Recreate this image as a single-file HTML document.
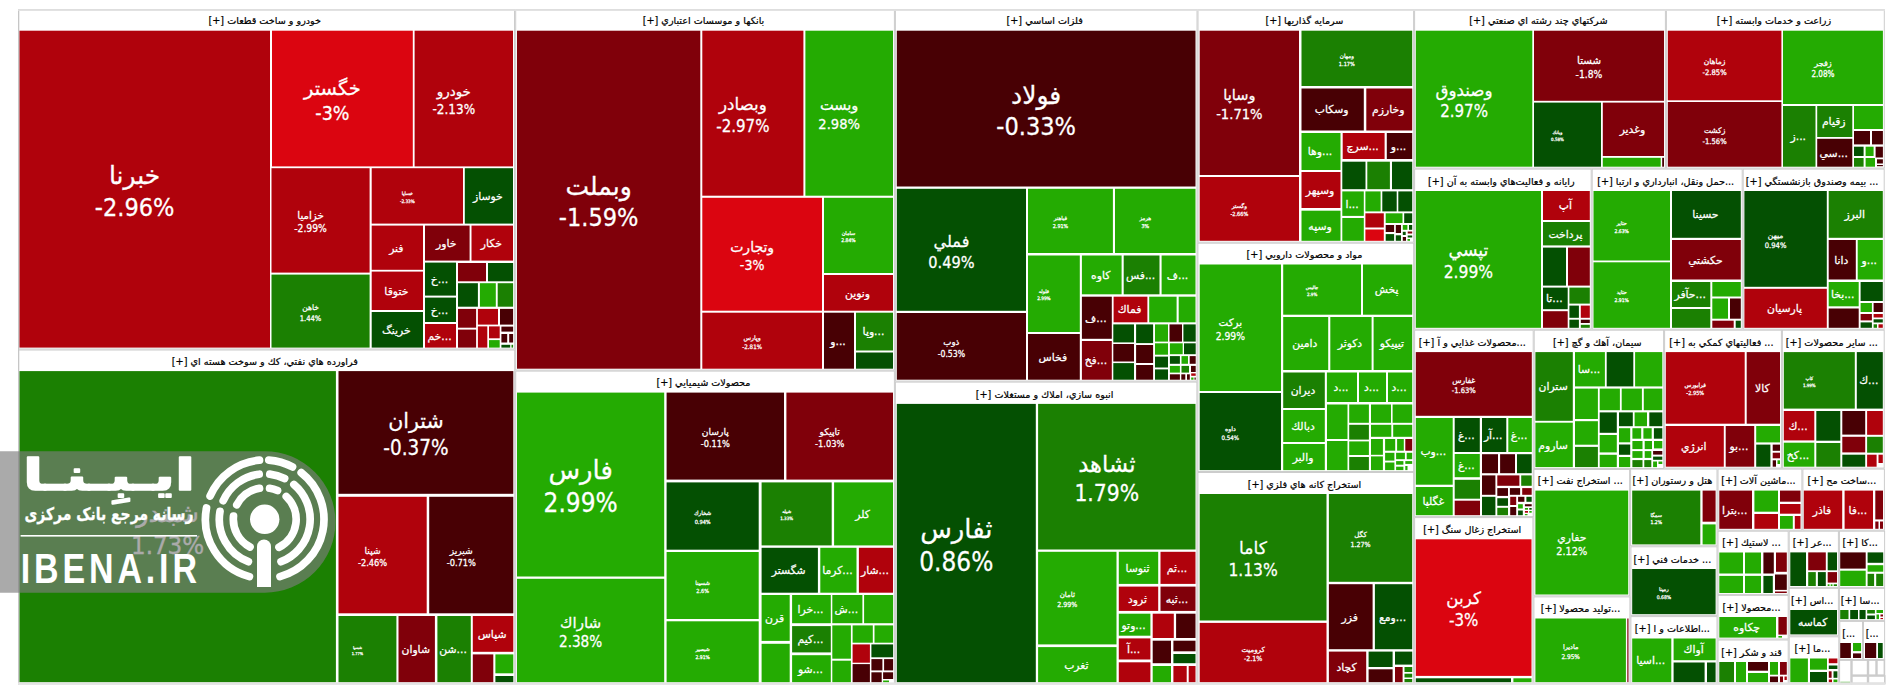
<!DOCTYPE html>
<html lang="fa"><head><meta charset="utf-8"><title>Market Map</title>
<style>html,body{margin:0;padding:0;background:#fff;overflow:hidden}svg{display:block}text{font-family:"DejaVu Sans","Liberation Sans",sans-serif;direction:rtl;unicode-bidi:plaintext}.c text,.c{direction:ltr;unicode-bidi:normal;fill:#fff;text-anchor:middle;stroke:#fff;stroke-width:.26px}.h{fill:#000;text-anchor:middle;font-size:9.65px;stroke:#000;stroke-width:.2px}.n{font-family:"DejaVu Sans Condensed","DejaVu Sans","Liberation Sans",sans-serif;direction:ltr}</style></head><body>
<svg width="1904" height="698" viewBox="0 0 1904 698">
<rect width="1904" height="698" fill="#fff"/>
<g fill="none" stroke="#ccc" stroke-width="1">
<rect x="18.5" y="9.7" width="496" height="339.3"/>
<rect x="515.7" y="9.7" width="378.7" height="360.4"/>
<rect x="895.4" y="9.7" width="301.6" height="371.4"/>
<rect x="1198" y="9.7" width="215.6" height="232.5"/>
<rect x="1414.6" y="9.7" width="250.8" height="158.4"/>
<rect x="1666.4" y="9.7" width="217.9" height="158.4"/>
<rect x="18.5" y="350" width="496.2" height="333.7"/>
<rect x="515.7" y="371.1" width="378.7" height="312.6"/>
<rect x="895.4" y="382.1" width="301.5" height="301.6"/>
<rect x="1197.9" y="243.2" width="215.7" height="228.3"/>
<rect x="1197.9" y="472.5" width="215.7" height="211.2"/>
<rect x="1414.6" y="169.1" width="176.6" height="160.1"/>
<rect x="1592.2" y="169.1" width="150" height="160.1"/>
<rect x="1743.2" y="169.1" width="141" height="160.1"/>
<rect x="1414.6" y="330.2" width="118.6" height="186.4"/>
<rect x="1534.2" y="330.2" width="129.4" height="138.3"/>
<rect x="1664.6" y="330.2" width="116.8" height="137.9"/>
<rect x="1782.4" y="330.2" width="101.8" height="137.9"/>
<rect x="1414.6" y="517.6" width="118.3" height="166.1"/>
<rect x="1533.9" y="469.5" width="95.7" height="126.4"/>
<rect x="1533.9" y="596.9" width="96" height="86.8"/>
<rect x="1630.6" y="469.1" width="86.4" height="76.7"/>
<rect x="1630.9" y="546.8" width="86.1" height="68.8"/>
<rect x="1630.9" y="616.6" width="86.1" height="67.1"/>
<rect x="1718" y="469.1" width="83.9" height="61.1"/>
<rect x="1802.9" y="469.1" width="81.5" height="61.1"/>
<rect x="1718" y="531.2" width="70.2" height="63.2"/>
<rect x="1718" y="595.4" width="70.2" height="43.6"/>
<rect x="1718" y="640" width="70.2" height="43.7"/>
<rect x="1789.2" y="531.2" width="49.2" height="56.2"/>
<rect x="1839.4" y="531.2" width="45.2" height="56.2"/>
<rect x="1789.2" y="588.4" width="49.2" height="47.4"/>
<rect x="1839.4" y="588.4" width="45.2" height="32"/>
<rect x="1789.2" y="636.8" width="49.6" height="46.9"/>
<rect x="1839.8" y="621.4" width="22.7" height="38"/>
<rect x="1863.5" y="621.4" width="21.1" height="38"/>
<rect x="1839.3" y="660.1" width="11.8" height="23.4" stroke-width="1.6"/>
<rect x="1851.9" y="660.1" width="15.7" height="15.1" stroke-width="1.6"/>
<rect x="1868.4" y="660.1" width="7.7" height="15.1" stroke-width="1.6"/>
<rect x="1876.9" y="660.1" width="7.5" height="15.1" stroke-width="1.6"/>
<rect x="1851.9" y="676" width="15.7" height="7.5" stroke-width="1.6"/>
<rect x="1868.4" y="676" width="16.4" height="7.5" stroke-width="1.6"/>
</g>
<rect x="1840.4" y="681.7" width="9.6" height="1.1" fill="#24AB02" opacity=".6"/>
<g>
<rect x="19.3" y="30.7" width="250.7" height="316.9" fill="#B0020C"/>
<rect x="272" y="30.7" width="140.8" height="135.7" fill="#DB0510"/>
<rect x="414.6" y="30.7" width="98.4" height="135.7" fill="#B0020C"/>
<rect x="271.5" y="168.2" width="98.1" height="104.4" fill="#B0020C"/>
<rect x="271.5" y="274.6" width="98.1" height="73" fill="#1B8002"/>
<rect x="371.7" y="168.2" width="91.3" height="55.4" fill="#B0020C"/>
<rect x="464.8" y="168.2" width="48.2" height="55.4" fill="#045002"/>
<rect x="371.7" y="225.6" width="51.3" height="44.2" fill="#B0020C"/>
<rect x="425" y="225.6" width="44.6" height="35" fill="#80000A"/>
<rect x="471.5" y="225.6" width="41.5" height="35" fill="#B0020C"/>
<rect x="371.7" y="271.6" width="51.3" height="38.4" fill="#B0020C"/>
<rect x="371.7" y="312" width="51.3" height="35.6" fill="#045002"/>
<rect x="425" y="262.6" width="31" height="33" fill="#045002"/>
<rect x="425" y="297.6" width="31" height="24.4" fill="#045002"/>
<rect x="425" y="324" width="31" height="23.6" fill="#B0020C"/>
<rect x="458" y="263" width="28" height="18.3" fill="#80000A"/>
<rect x="488" y="263" width="25.1" height="18.3" fill="#045002"/>
<rect x="458" y="283.2" width="19.9" height="23.5" fill="#045002"/>
<rect x="479.9" y="283.2" width="15.9" height="23.5" fill="#24AB02"/>
<rect x="497.7" y="283.2" width="15.4" height="23.5" fill="#1B8002"/>
<rect x="458" y="308.9" width="18.1" height="18.8" fill="#80000A"/>
<rect x="477.9" y="308.9" width="20.1" height="15.7" fill="#B0020C"/>
<rect x="500" y="308.9" width="13.1" height="15.7" fill="#480004"/>
<rect x="458" y="329.6" width="18.1" height="18" fill="#80000A"/>
<rect x="477.9" y="326.4" width="9.4" height="21.2" fill="#B0020C"/>
<rect x="489" y="326.4" width="10.7" height="11.9" fill="#B0020C"/>
<rect x="489" y="340.1" width="10.7" height="7.5" fill="#24AB02"/>
<rect x="501.4" y="326.6" width="11.7" height="5" fill="#480004"/>
<rect x="501.4" y="334" width="5.8" height="8.5" fill="#480004"/>
<rect x="509.2" y="334" width="3.9" height="8.5" fill="#480004"/>
<rect x="501.4" y="344.8" width="8.8" height="2.8" fill="#045002"/>
<rect x="511.5" y="344.8" width="1.6" height="2.8" fill="#1B8002"/>
</g>
<g>
<rect x="517" y="30.7" width="183.3" height="338" fill="#80000A"/>
<rect x="702.3" y="30.7" width="101.1" height="165" fill="#B0020C"/>
<rect x="805.4" y="30.7" width="87.6" height="165" fill="#24AB02"/>
<rect x="702.3" y="197.8" width="119.7" height="112.9" fill="#DB0510"/>
<rect x="824" y="197.8" width="69" height="75.2" fill="#24AB02"/>
<rect x="824" y="275" width="69" height="35.7" fill="#B0020C"/>
<rect x="702.3" y="312.7" width="119.7" height="56" fill="#B0020C"/>
<rect x="824" y="312.7" width="30" height="56" fill="#480004"/>
<rect x="856" y="312.7" width="37" height="37.8" fill="#1B8002"/>
<rect x="856" y="352.5" width="37" height="16.2" fill="#045002"/>
</g>
<g>
<rect x="896.8" y="30.7" width="298.7" height="155.8" fill="#480004"/>
<rect x="896.8" y="188.8" width="129.2" height="122" fill="#045002"/>
<rect x="896.8" y="313" width="129.2" height="66.7" fill="#480004"/>
<rect x="1028" y="188.8" width="84.9" height="64.2" fill="#24AB02"/>
<rect x="1115" y="188.8" width="80.5" height="64.2" fill="#24AB02"/>
<rect x="1028" y="255.5" width="51.8" height="76.5" fill="#24AB02"/>
<rect x="1028" y="334" width="51.8" height="45.7" fill="#480004"/>
<rect x="1081.9" y="255.5" width="39.7" height="38.8" fill="#24AB02"/>
<rect x="1123.7" y="255.5" width="35.8" height="38.8" fill="#1B8002"/>
<rect x="1161.6" y="255.5" width="33.9" height="38.8" fill="#24AB02"/>
<rect x="1081.9" y="296.7" width="29.9" height="42.1" fill="#480004"/>
<rect x="1081.9" y="341" width="29.9" height="38.7" fill="#80000A"/>
<rect x="1113.6" y="296.7" width="33.8" height="25.6" fill="#B0020C"/>
<rect x="1149.2" y="296.7" width="27.4" height="25.6" fill="#24AB02"/>
<rect x="1178.7" y="296.7" width="16.8" height="25.6" fill="#24AB02"/>
<rect x="1113.3" y="324.4" width="20.7" height="18" fill="#045002"/>
<rect x="1113.3" y="344" width="20.7" height="17.5" fill="#480004"/>
<rect x="1113.3" y="363.1" width="20.7" height="16.6" fill="#045002"/>
<rect x="1136.1" y="324.4" width="17" height="18.7" fill="#045002"/>
<rect x="1136.1" y="345" width="17" height="18" fill="#480004"/>
<rect x="1136.1" y="365" width="17" height="14.7" fill="#480004"/>
<rect x="1155" y="324.4" width="13" height="17.2" fill="#24AB02"/>
<rect x="1155" y="343.3" width="13" height="11.4" fill="#24AB02"/>
<rect x="1155" y="356.6" width="13" height="10.9" fill="#045002"/>
<rect x="1155" y="369.4" width="13" height="10.3" fill="#045002"/>
<rect x="1169.5" y="324.4" width="12.5" height="17.2" fill="#480004"/>
<rect x="1169.9" y="343.3" width="12.8" height="10.9" fill="#24AB02"/>
<rect x="1169.9" y="356.1" width="10" height="7.7" fill="#045002"/>
<rect x="1181.5" y="356.1" width="6.5" height="7.7" fill="#24AB02"/>
<rect x="1189.7" y="356.1" width="6" height="7.7" fill="#480004"/>
<rect x="1169.9" y="365.9" width="10" height="6.7" fill="#24AB02"/>
<rect x="1181.5" y="365.9" width="7.5" height="6.7" fill="#1B8002"/>
<rect x="1191" y="365.9" width="4.7" height="6.1" fill="#480004"/>
<rect x="1169.9" y="374.3" width="10" height="5.4" fill="#480004"/>
<rect x="1181.3" y="374.3" width="4" height="5.4" fill="#480004"/>
<rect x="1187" y="374.3" width="2.8" height="5.4" fill="#480004"/>
<rect x="1191.2" y="373.4" width="4.5" height="2.4" fill="#B0020C"/>
<rect x="1191.2" y="377.5" width="2.3" height="2.2" fill="#24AB02"/>
<rect x="1194.5" y="377.5" width="1.2" height="2.2" fill="#480004"/>
<rect x="1183.4" y="324.4" width="12.3" height="17.2" fill="#045002"/>
<rect x="1184" y="343.3" width="11.7" height="10.9" fill="#045002"/>
</g>
<g>
<rect x="1199.7" y="30.7" width="99.3" height="144.3" fill="#80000A"/>
<rect x="1199.7" y="177" width="99.3" height="63.8" fill="#B0020C"/>
<rect x="1301.5" y="30.7" width="110.7" height="55.3" fill="#1B8002"/>
<rect x="1301.5" y="88.5" width="62.3" height="42" fill="#480004"/>
<rect x="1366.3" y="88.5" width="45.9" height="42" fill="#80000A"/>
<rect x="1301.5" y="133" width="39" height="37" fill="#24AB02"/>
<rect x="1301.5" y="172" width="39" height="36" fill="#B0020C"/>
<rect x="1301.5" y="210.7" width="39" height="30.1" fill="#24AB02"/>
<rect x="1342.7" y="133" width="41.9" height="26" fill="#B0020C"/>
<rect x="1386.8" y="133" width="25.4" height="26" fill="#480004"/>
<rect x="1342.3" y="191.4" width="21.5" height="24.5" fill="#24AB02"/>
<rect x="1342.3" y="161.7" width="23.2" height="27.5" fill="#045002"/>
<rect x="1367.3" y="161.7" width="22.6" height="27.5" fill="#1B8002"/>
<rect x="1392" y="161.7" width="20.2" height="27.5" fill="#045002"/>
<rect x="1342.3" y="218" width="21.5" height="22.8" fill="#24AB02"/>
<rect x="1365.4" y="191.4" width="15.2" height="20" fill="#24AB02"/>
<rect x="1382.3" y="191.4" width="14.4" height="20" fill="#045002"/>
<rect x="1398.3" y="191.4" width="13.9" height="20" fill="#045002"/>
<rect x="1365.4" y="213.3" width="18.4" height="14.2" fill="#B0020C"/>
<rect x="1365.4" y="229.5" width="18.4" height="11.3" fill="#DB0510"/>
<rect x="1385.7" y="213.3" width="16.8" height="9.7" fill="#24AB02"/>
<rect x="1404.2" y="213.3" width="8" height="9.7" fill="#045002"/>
<rect x="1385.7" y="225" width="8.4" height="7" fill="#480004"/>
<rect x="1395.8" y="225" width="5.2" height="8" fill="#480004"/>
<rect x="1385.7" y="234.1" width="8.4" height="6.7" fill="#045002"/>
<rect x="1395.8" y="235.3" width="5.2" height="5.5" fill="#045002"/>
<rect x="1402.8" y="225" width="4.6" height="4.8" fill="#24AB02"/>
<rect x="1409" y="225" width="3.2" height="4.8" fill="#045002"/>
<rect x="1402.8" y="231.8" width="2.9" height="3.2" fill="#045002"/>
<rect x="1407.7" y="231.5" width="4.5" height="2" fill="#80000A"/>
<rect x="1407.7" y="235.5" width="4.5" height="2" fill="#045002"/>
<rect x="1402.8" y="237" width="3.2" height="3.8" fill="#480004"/>
<rect x="1407.5" y="239" width="2.5" height="1.8" fill="#24AB02"/>
</g>
<g>
<rect x="1415.8" y="30.7" width="116.5" height="136" fill="#24AB02"/>
<rect x="1534" y="30.7" width="130" height="70.1" fill="#80000A"/>
<rect x="1534" y="102.6" width="67" height="64.1" fill="#045002"/>
<rect x="1602.8" y="102.6" width="61.2" height="53.4" fill="#80000A"/>
<rect x="1602.8" y="157.8" width="57.9" height="8.9" fill="#24AB02"/>
<rect x="1662.2" y="157.8" width="1.8" height="8.9" fill="#480004"/>
</g>
<g>
<rect x="1667.8" y="30.7" width="113.6" height="69.6" fill="#B0020C"/>
<rect x="1667.8" y="102" width="113.6" height="64.7" fill="#80000A"/>
<rect x="1783" y="30.7" width="99.9" height="73.3" fill="#24AB02"/>
<rect x="1783" y="106" width="32.5" height="60.7" fill="#1B8002"/>
<rect x="1817.2" y="106" width="35.1" height="31" fill="#1B8002"/>
<rect x="1817.2" y="138.8" width="35.1" height="27.9" fill="#480004"/>
<rect x="1854" y="106" width="28.9" height="23" fill="#24AB02"/>
<rect x="1854" y="131" width="16" height="13.4" fill="#480004"/>
<rect x="1872" y="131" width="10.9" height="13.4" fill="#480004"/>
<rect x="1854" y="146.7" width="9.6" height="9.3" fill="#045002"/>
<rect x="1865.6" y="146.7" width="8" height="9.3" fill="#24AB02"/>
<rect x="1875.6" y="146.7" width="7.3" height="10.8" fill="#480004"/>
<rect x="1854" y="158" width="9.6" height="8.7" fill="#1B8002"/>
<rect x="1865.6" y="158" width="9.4" height="8.7" fill="#24AB02"/>
<rect x="1877" y="159.3" width="5.9" height="4.2" fill="#480004"/>
<rect x="1877" y="165" width="5.9" height="1.2" fill="#480004"/>
</g>
<g>
<rect x="19.3" y="371.1" width="316.6" height="311.2" fill="#1B8002"/>
<rect x="338.5" y="371.1" width="174.8" height="122.7" fill="#480004"/>
<rect x="338.5" y="496.8" width="88.2" height="116.5" fill="#B0020C"/>
<rect x="429.2" y="496.8" width="84.1" height="116.5" fill="#480004"/>
<rect x="338.5" y="616" width="57.9" height="66.3" fill="#1B8002"/>
<rect x="398.5" y="616" width="36.4" height="66.3" fill="#80000A"/>
<rect x="437.4" y="616" width="33.4" height="66.3" fill="#1B8002"/>
<rect x="472.8" y="616" width="40.5" height="35.8" fill="#B0020C"/>
<rect x="472.8" y="654.4" width="20.5" height="27.9" fill="#80000A"/>
<rect x="495.4" y="654.4" width="17.9" height="18.9" fill="#24AB02"/>
<rect x="495.4" y="676" width="17.9" height="6.3" fill="#045002"/>
</g>
<g>
<rect x="517" y="392.6" width="147.2" height="183.9" fill="#24AB02"/>
<rect x="517" y="578.8" width="147.2" height="103.5" fill="#24AB02"/>
<rect x="666.6" y="392.6" width="117.4" height="87" fill="#480004"/>
<rect x="786.4" y="392.6" width="106.6" height="87" fill="#80000A"/>
<rect x="666.6" y="482.4" width="92.1" height="67.3" fill="#045002"/>
<rect x="761.6" y="482.4" width="70.1" height="63" fill="#1B8002"/>
<rect x="834.1" y="482.4" width="58.9" height="63" fill="#24AB02"/>
<rect x="666.6" y="552" width="92.1" height="67" fill="#24AB02"/>
<rect x="666.6" y="621.3" width="92.1" height="61" fill="#24AB02"/>
<rect x="761.6" y="547.8" width="56.3" height="44.9" fill="#045002"/>
<rect x="820.3" y="547.8" width="36.2" height="44.9" fill="#24AB02"/>
<rect x="858.9" y="547.8" width="34.1" height="44.9" fill="#B0020C"/>
<rect x="761.6" y="595" width="28.1" height="45.9" fill="#24AB02"/>
<rect x="761.6" y="643.8" width="28.1" height="38.5" fill="#24AB02"/>
<rect x="792.1" y="595" width="38.7" height="28.2" fill="#24AB02"/>
<rect x="792.1" y="626.1" width="38.7" height="26.3" fill="#1B8002"/>
<rect x="792.1" y="655.2" width="38.7" height="27.1" fill="#24AB02"/>
<rect x="832.3" y="595" width="30.1" height="28.2" fill="#24AB02"/>
<rect x="864.1" y="595" width="29" height="28.2" fill="#24AB02"/>
<rect x="832.3" y="625.4" width="18.6" height="33.3" fill="#24AB02"/>
<rect x="832.3" y="660.7" width="18.6" height="21.6" fill="#24AB02"/>
<rect x="852.6" y="625.4" width="20.2" height="17.3" fill="#24AB02"/>
<rect x="874.5" y="625.4" width="18.6" height="17.3" fill="#24AB02"/>
<rect x="852.6" y="644.4" width="17.3" height="18.3" fill="#B0020C"/>
<rect x="852.6" y="664.1" width="17.3" height="18.2" fill="#480004"/>
<rect x="871.4" y="644.4" width="21.7" height="12.9" fill="#045002"/>
<rect x="871.4" y="659.1" width="11" height="11.3" fill="#480004"/>
<rect x="884.1" y="659.1" width="9" height="11.3" fill="#480004"/>
<rect x="871.4" y="672.3" width="10.3" height="10" fill="#480004"/>
<rect x="883.1" y="672.3" width="10" height="6.7" fill="#480004"/>
<rect x="883.1" y="680.5" width="5.9" height="1.8" fill="#24AB02"/>
</g>
<g>
<rect x="896.8" y="403.9" width="139" height="278.4" fill="#045002"/>
<rect x="1038.1" y="403.9" width="157.4" height="145.6" fill="#1B8002"/>
<rect x="1038.1" y="551.8" width="78.4" height="92.6" fill="#24AB02"/>
<rect x="1038.1" y="647.1" width="78.4" height="35.2" fill="#24AB02"/>
<rect x="1118.8" y="551.8" width="39.4" height="32.1" fill="#24AB02"/>
<rect x="1160.5" y="551.8" width="35" height="32.1" fill="#B0020C"/>
<rect x="1118.8" y="586.6" width="39.4" height="24.3" fill="#B0020C"/>
<rect x="1160.5" y="586.6" width="35" height="24.3" fill="#80000A"/>
<rect x="1118.8" y="613.7" width="31.6" height="22" fill="#24AB02"/>
<rect x="1118.8" y="638.4" width="31.6" height="21.1" fill="#B0020C"/>
<rect x="1118.8" y="662.3" width="31.6" height="20" fill="#B0020C"/>
<rect x="1152.7" y="613.7" width="21.1" height="24.3" fill="#B0020C"/>
<rect x="1176.1" y="613.7" width="19.4" height="24.3" fill="#480004"/>
<rect x="1152.7" y="640.7" width="18.3" height="22.5" fill="#480004"/>
<rect x="1173.4" y="640.7" width="22.1" height="10.6" fill="#480004"/>
<rect x="1173.4" y="654" width="22.1" height="9.2" fill="#045002"/>
<rect x="1152.7" y="666" width="18.3" height="16.3" fill="#24AB02"/>
<rect x="1173.4" y="666" width="13.3" height="16.3" fill="#B0020C"/>
<rect x="1188.7" y="666" width="6.8" height="16.3" fill="#B0020C"/>
</g>
<g>
<rect x="1199.7" y="264.5" width="81.3" height="126.5" fill="#24AB02"/>
<rect x="1199.7" y="393" width="81.3" height="77.1" fill="#045002"/>
<rect x="1283.2" y="264.5" width="77.8" height="50.2" fill="#24AB02"/>
<rect x="1363" y="264.5" width="49.2" height="50.2" fill="#24AB02"/>
<rect x="1283.2" y="317" width="45" height="53" fill="#24AB02"/>
<rect x="1330.3" y="317" width="41.3" height="53" fill="#24AB02"/>
<rect x="1373.6" y="317" width="38.6" height="53" fill="#24AB02"/>
<rect x="1283.2" y="372.5" width="41.6" height="35.5" fill="#1B8002"/>
<rect x="1283.2" y="410" width="41.6" height="32" fill="#24AB02"/>
<rect x="1283.2" y="444" width="41.6" height="26.1" fill="#24AB02"/>
<rect x="1326.9" y="372.5" width="30.1" height="29.5" fill="#24AB02"/>
<rect x="1359" y="372.5" width="27" height="29.5" fill="#24AB02"/>
<rect x="1388" y="372.5" width="24.2" height="29.5" fill="#24AB02"/>
<rect x="1327" y="404.5" width="20.5" height="34.5" fill="#24AB02"/>
<rect x="1327" y="441" width="20.5" height="29.1" fill="#24AB02"/>
<rect x="1349.2" y="404.5" width="19.7" height="18.3" fill="#24AB02"/>
<rect x="1349.2" y="424.8" width="19.7" height="14.8" fill="#1B8002"/>
<rect x="1349.2" y="441.4" width="19.7" height="13.6" fill="#24AB02"/>
<rect x="1349.2" y="457" width="19.7" height="13.1" fill="#1B8002"/>
<rect x="1371" y="404.5" width="20" height="18.3" fill="#24AB02"/>
<rect x="1371" y="424.8" width="20.3" height="12" fill="#24AB02"/>
<rect x="1392.6" y="404.5" width="19.6" height="18.3" fill="#24AB02"/>
<rect x="1393.2" y="424.8" width="19" height="12" fill="#24AB02"/>
<rect x="1371" y="439" width="11.9" height="15.8" fill="#24AB02"/>
<rect x="1371" y="456.4" width="11.9" height="13.7" fill="#24AB02"/>
<rect x="1385.1" y="439" width="10.1" height="11.7" fill="#24AB02"/>
<rect x="1397.1" y="439" width="6.7" height="11.7" fill="#24AB02"/>
<rect x="1405.3" y="439" width="6.9" height="11.7" fill="#80000A"/>
<rect x="1385.1" y="452.8" width="9.3" height="7.8" fill="#24AB02"/>
<rect x="1396.1" y="452.8" width="8.8" height="6.4" fill="#24AB02"/>
<rect x="1406.7" y="452.8" width="5.5" height="6.4" fill="#24AB02"/>
<rect x="1385.1" y="462.5" width="9.3" height="7.6" fill="#24AB02"/>
<rect x="1396.1" y="461.1" width="7.3" height="3.6" fill="#24AB02"/>
<rect x="1405.3" y="461.1" width="6.9" height="2.8" fill="#24AB02"/>
<rect x="1396.1" y="466.7" width="7.3" height="3.4" fill="#24AB02"/>
<rect x="1405.3" y="466" width="2.2" height="4.1" fill="#24AB02"/>
</g>
<g>
<rect x="1199.7" y="494" width="126.8" height="126.5" fill="#1B8002"/>
<rect x="1199.7" y="622.9" width="126.8" height="59.4" fill="#B0020C"/>
<rect x="1328.9" y="494" width="83.3" height="87.8" fill="#1B8002"/>
<rect x="1328.9" y="584.2" width="43.7" height="65" fill="#480004"/>
<rect x="1374.9" y="584.2" width="37.3" height="65" fill="#045002"/>
<rect x="1328.9" y="651.6" width="37.3" height="30.7" fill="#80000A"/>
<rect x="1368.6" y="651.6" width="24" height="15.4" fill="#045002"/>
<rect x="1368.6" y="669.3" width="24" height="13" fill="#480004"/>
<rect x="1395" y="651.6" width="17.2" height="13" fill="#045002"/>
<rect x="1395" y="667" width="7.6" height="15.3" fill="#80000A"/>
<rect x="1404.5" y="667" width="7.7" height="5" fill="#1B8002"/>
<rect x="1404.5" y="673.7" width="7.7" height="3.8" fill="#1B8002"/>
<rect x="1404.5" y="679" width="7.7" height="3.3" fill="#1B8002"/>
</g>
<g>
<rect x="1415.8" y="191" width="125.2" height="136.8" fill="#24AB02"/>
<rect x="1543" y="191" width="46.8" height="29" fill="#B0020C"/>
<rect x="1543" y="222" width="46.8" height="23.4" fill="#1B8002"/>
<rect x="1543" y="247.6" width="23" height="38" fill="#045002"/>
<rect x="1568" y="247.6" width="21.8" height="38" fill="#80000A"/>
<rect x="1543" y="287.6" width="24.7" height="21.6" fill="#045002"/>
<rect x="1543" y="311.2" width="24.7" height="16.6" fill="#80000A"/>
<rect x="1569.4" y="287.6" width="20.4" height="16" fill="#1B8002"/>
<rect x="1569.4" y="305.6" width="9.5" height="12.2" fill="#045002"/>
<rect x="1580.8" y="305.6" width="9" height="12.2" fill="#B0020C"/>
<rect x="1569.4" y="319.7" width="9.5" height="8.1" fill="#045002"/>
<rect x="1580.8" y="319.7" width="9" height="3.3" fill="#480004"/>
<rect x="1580.8" y="324.8" width="9" height="3" fill="#1B8002"/>
</g>
<g>
<rect x="1593.5" y="191" width="76.5" height="69.5" fill="#24AB02"/>
<rect x="1593.5" y="262.3" width="76.5" height="65.5" fill="#24AB02"/>
<rect x="1672" y="191" width="68.8" height="46.8" fill="#045002"/>
<rect x="1672" y="240" width="68.8" height="39.5" fill="#80000A"/>
<rect x="1672" y="282" width="38.3" height="25" fill="#1B8002"/>
<rect x="1672" y="309" width="38.3" height="18.8" fill="#1B8002"/>
<rect x="1712.3" y="282" width="28.5" height="14.5" fill="#24AB02"/>
<rect x="1712.3" y="298.5" width="15.7" height="20.2" fill="#24AB02"/>
<rect x="1730" y="298.5" width="10.8" height="20.2" fill="#480004"/>
<rect x="1712.3" y="320.7" width="21.4" height="7.1" fill="#80000A"/>
<rect x="1735.7" y="320.7" width="5.1" height="7.1" fill="#045002"/>
</g>
<g>
<rect x="1744.4" y="191" width="82.4" height="95.8" fill="#045002"/>
<rect x="1744.4" y="288.8" width="82.4" height="39" fill="#B0020C"/>
<rect x="1828.7" y="191" width="54.1" height="46.8" fill="#1B8002"/>
<rect x="1828.7" y="240" width="27.1" height="39.5" fill="#480004"/>
<rect x="1857.7" y="240" width="25.1" height="39.5" fill="#24AB02"/>
<rect x="1828.7" y="282" width="30" height="24.3" fill="#24AB02"/>
<rect x="1828.7" y="308.5" width="30" height="19.3" fill="#480004"/>
<rect x="1860.6" y="282" width="22.2" height="19" fill="#045002"/>
<rect x="1860.6" y="303" width="11.3" height="9" fill="#24AB02"/>
<rect x="1873.6" y="303" width="9.2" height="9" fill="#480004"/>
<rect x="1860.6" y="314" width="11.3" height="6.4" fill="#80000A"/>
<rect x="1873.6" y="314" width="9.2" height="3.5" fill="#B0020C"/>
<rect x="1873.6" y="319.3" width="9.2" height="3.2" fill="#045002"/>
<rect x="1860.6" y="322.4" width="11.3" height="5.4" fill="#045002"/>
<rect x="1873.6" y="324.3" width="3.4" height="3.5" fill="#1B8002"/>
<rect x="1878.5" y="324.3" width="4.3" height="3.5" fill="#B0020C"/>
</g>
<g>
<rect x="1415.8" y="352.1" width="116" height="63.7" fill="#80000A"/>
<rect x="1415.8" y="418" width="36.9" height="66.7" fill="#24AB02"/>
<rect x="1415.8" y="487" width="36.9" height="28.2" fill="#24AB02"/>
<rect x="1454.7" y="418" width="25.1" height="34" fill="#045002"/>
<rect x="1482" y="418" width="24.3" height="34" fill="#045002"/>
<rect x="1508.3" y="418" width="23.5" height="34" fill="#24AB02"/>
<rect x="1454.7" y="454" width="25.1" height="23.2" fill="#24AB02"/>
<rect x="1454.7" y="479.8" width="25.3" height="18.9" fill="#1B8002"/>
<rect x="1454.7" y="500.7" width="25.3" height="14.5" fill="#80000A"/>
<rect x="1482" y="454.2" width="16" height="19" fill="#480004"/>
<rect x="1500.1" y="454.2" width="14.9" height="19" fill="#480004"/>
<rect x="1517" y="454.2" width="14.7" height="19" fill="#045002"/>
<rect x="1482" y="475.4" width="13.4" height="19.4" fill="#480004"/>
<rect x="1497.3" y="475.4" width="22.1" height="10.4" fill="#80000A"/>
<rect x="1521.2" y="475.4" width="10.5" height="10.4" fill="#1B8002"/>
<rect x="1497.3" y="488.1" width="10.7" height="7.8" fill="#480004"/>
<rect x="1509.9" y="488.1" width="10.2" height="6.7" fill="#480004"/>
<rect x="1522.2" y="488.1" width="9.5" height="6.7" fill="#80000A"/>
<rect x="1482" y="496.8" width="13.4" height="18.4" fill="#045002"/>
<rect x="1497.3" y="498.2" width="10.7" height="7.6" fill="#045002"/>
<rect x="1497.3" y="507.8" width="10.7" height="7.4" fill="#1B8002"/>
<rect x="1510.2" y="496.8" width="6" height="8.2" fill="#80000A"/>
<rect x="1510.2" y="507" width="6" height="8.2" fill="#480004"/>
<rect x="1518.1" y="496.8" width="6.3" height="5" fill="#480004"/>
<rect x="1526.4" y="496.8" width="5.3" height="5" fill="#045002"/>
<rect x="1518.1" y="504.2" width="4.7" height="4.3" fill="#24AB02"/>
<rect x="1524.9" y="504.2" width="6.8" height="2.1" fill="#480004"/>
<rect x="1518.1" y="510.5" width="4.7" height="4.7" fill="#045002"/>
<rect x="1524.9" y="508" width="3.1" height="1.7" fill="#24AB02"/>
<rect x="1529.3" y="508" width="2.4" height="1.7" fill="#045002"/>
<rect x="1524.9" y="511" width="3.1" height="1.7" fill="#B0020C"/>
<rect x="1529.3" y="511" width="2.4" height="1.7" fill="#24AB02"/>
<rect x="1524.9" y="514" width="2.6" height="1.2" fill="#24AB02"/>
</g>
<g>
<rect x="1535.4" y="352.1" width="37.4" height="68.7" fill="#1B8002"/>
<rect x="1535.4" y="422.7" width="37.4" height="44.4" fill="#24AB02"/>
<rect x="1575" y="352.1" width="29.9" height="34.3" fill="#24AB02"/>
<rect x="1606.7" y="352.1" width="26.6" height="34.3" fill="#045002"/>
<rect x="1635.1" y="352.1" width="27.2" height="34.3" fill="#24AB02"/>
<rect x="1575" y="388.6" width="22.9" height="30.4" fill="#24AB02"/>
<rect x="1599.7" y="388.6" width="20.2" height="21.6" fill="#24AB02"/>
<rect x="1621.7" y="388.6" width="20.2" height="21.6" fill="#24AB02"/>
<rect x="1643.8" y="388.6" width="18.5" height="21.6" fill="#24AB02"/>
<rect x="1575" y="421.2" width="22.9" height="23.5" fill="#24AB02"/>
<rect x="1575" y="446.9" width="22.9" height="20.2" fill="#1B8002"/>
<rect x="1599.7" y="412.4" width="17.1" height="20.4" fill="#045002"/>
<rect x="1619" y="412.4" width="13.8" height="13.8" fill="#045002"/>
<rect x="1634.6" y="412.4" width="12.4" height="13.8" fill="#24AB02"/>
<rect x="1649.3" y="412.4" width="13" height="13.8" fill="#045002"/>
<rect x="1599.7" y="435" width="17.1" height="17.4" fill="#24AB02"/>
<rect x="1599.7" y="454.8" width="17.1" height="12.3" fill="#24AB02"/>
<rect x="1619" y="428.2" width="11.2" height="14.1" fill="#24AB02"/>
<rect x="1619" y="444.5" width="11.2" height="10.3" fill="#045002"/>
<rect x="1619" y="457" width="11.2" height="10.1" fill="#24AB02"/>
<rect x="1632.4" y="428.2" width="8.8" height="10.5" fill="#24AB02"/>
<rect x="1643.4" y="428.2" width="8.3" height="10.5" fill="#24AB02"/>
<rect x="1653.9" y="428.2" width="8.4" height="10.5" fill="#045002"/>
<rect x="1632.4" y="441" width="10.1" height="8.1" fill="#24AB02"/>
<rect x="1644.7" y="441" width="7.3" height="8.1" fill="#24AB02"/>
<rect x="1654" y="441" width="8.3" height="7.4" fill="#24AB02"/>
<rect x="1632.4" y="451.1" width="10.1" height="6.8" fill="#24AB02"/>
<rect x="1644.7" y="451.1" width="6.6" height="6.8" fill="#24AB02"/>
<rect x="1653.1" y="451" width="9.2" height="3.6" fill="#480004"/>
<rect x="1653.1" y="456.6" width="9.2" height="3.2" fill="#045002"/>
<rect x="1632.4" y="460.1" width="10.1" height="7" fill="#1B8002"/>
<rect x="1644.3" y="460.1" width="7" height="7" fill="#1B8002"/>
<rect x="1653.1" y="461.5" width="3.9" height="5.6" fill="#24AB02"/>
<rect x="1658.5" y="461.5" width="3.8" height="2.5" fill="#24AB02"/>
</g>
<g>
<rect x="1665.8" y="352.1" width="78.9" height="71.6" fill="#B0020C"/>
<rect x="1746.7" y="352.1" width="33.3" height="71.6" fill="#80000A"/>
<rect x="1665.8" y="426" width="58" height="40.7" fill="#B0020C"/>
<rect x="1725.7" y="426" width="28.5" height="40.7" fill="#80000A"/>
<rect x="1756.2" y="426" width="23.8" height="16.4" fill="#24AB02"/>
<rect x="1756.2" y="444.6" width="14.2" height="22.1" fill="#045002"/>
<rect x="1772.7" y="444.6" width="7.3" height="6.2" fill="#480004"/>
<rect x="1772.7" y="452.7" width="7.3" height="5.6" fill="#80000A"/>
<rect x="1772.7" y="460.3" width="3.3" height="6.4" fill="#480004"/>
<rect x="1777.5" y="460.3" width="2.5" height="3.7" fill="#24AB02"/>
</g>
<g>
<rect x="1783.8" y="352.1" width="71" height="56.5" fill="#1B8002"/>
<rect x="1856.8" y="352.1" width="26" height="56.5" fill="#045002"/>
<rect x="1783.8" y="411" width="30.5" height="29.4" fill="#B0020C"/>
<rect x="1783.8" y="442.7" width="30.5" height="24" fill="#24AB02"/>
<rect x="1816.3" y="411" width="24" height="29.7" fill="#045002"/>
<rect x="1816.3" y="443" width="24" height="23.7" fill="#1B8002"/>
<rect x="1842.3" y="411" width="22.9" height="23.6" fill="#480004"/>
<rect x="1867.1" y="411" width="15.7" height="23.8" fill="#B0020C"/>
<rect x="1842.3" y="436.8" width="22.9" height="15.6" fill="#80000A"/>
<rect x="1867.1" y="436.8" width="15.7" height="15.9" fill="#1B8002"/>
<rect x="1842.3" y="454.7" width="22.9" height="12" fill="#045002"/>
<rect x="1867.1" y="454.7" width="9.5" height="12" fill="#B0020C"/>
<rect x="1878.5" y="454.7" width="4.3" height="8.3" fill="#B0020C"/>
</g>
<g>
<rect x="1415.8" y="539.3" width="115.7" height="136.6" fill="#DB0510"/>
<rect x="1415.8" y="678.3" width="95.2" height="4" fill="#045002"/>
<rect x="1513.4" y="678.3" width="18.1" height="4" fill="#24AB02"/>
</g>
<g>
<rect x="1535.4" y="490.6" width="92.8" height="103.9" fill="#24AB02"/>
</g>
<g>
<rect x="1535.4" y="618.5" width="90.5" height="63.8" fill="#24AB02"/>
<rect x="1627.3" y="618.5" width="1.2" height="63.8" fill="#80000A"/>
</g>
<g>
<rect x="1632.2" y="490.6" width="68.1" height="53.8" fill="#1B8002"/>
<rect x="1702.6" y="490.6" width="13" height="31.1" fill="#80000A"/>
<rect x="1702.6" y="524.4" width="13" height="20" fill="#24AB02"/>
</g>
<g>
<rect x="1632.2" y="569" width="83.4" height="45.2" fill="#045002"/>
</g>
<g>
<rect x="1632.2" y="638.5" width="39.1" height="43.8" fill="#24AB02"/>
<rect x="1673.6" y="638.5" width="42" height="21.7" fill="#24AB02"/>
<rect x="1673.6" y="662.5" width="31" height="19.8" fill="#045002"/>
<rect x="1707" y="662.5" width="8.6" height="19.8" fill="#045002"/>
</g>
<g>
<rect x="1719.3" y="490.6" width="32.7" height="38.2" fill="#80000A"/>
<rect x="1754.4" y="490.6" width="23.6" height="21.1" fill="#24AB02"/>
<rect x="1754.4" y="514" width="23.6" height="14.8" fill="#B0020C"/>
<rect x="1780" y="490.6" width="20.5" height="11.1" fill="#80000A"/>
<rect x="1780" y="504" width="20.5" height="9.7" fill="#B0020C"/>
<rect x="1780" y="516" width="12.8" height="12.8" fill="#24AB02"/>
<rect x="1794.8" y="516" width="5.7" height="12.8" fill="#B0020C"/>
</g>
<g>
<rect x="1803.8" y="490.6" width="38.4" height="38.2" fill="#B0020C"/>
<rect x="1844.6" y="490.6" width="28.4" height="38.2" fill="#B0020C"/>
<rect x="1875.3" y="490.6" width="7.7" height="28.8" fill="#80000A"/>
<rect x="1875.3" y="521.5" width="3.2" height="7.3" fill="#80000A"/>
<rect x="1880" y="521.5" width="3" height="7.3" fill="#80000A"/>
</g>
<g>
<rect x="1719.3" y="552.5" width="23.7" height="21" fill="#24AB02"/>
<rect x="1745" y="552.5" width="16" height="21" fill="#24AB02"/>
<rect x="1763.4" y="552.5" width="10.4" height="21" fill="#480004"/>
<rect x="1776" y="552.5" width="10.8" height="19.3" fill="#80000A"/>
<rect x="1719.3" y="575.9" width="23.7" height="17.1" fill="#24AB02"/>
<rect x="1745" y="575.9" width="16" height="17.1" fill="#24AB02"/>
<rect x="1763.4" y="575.9" width="9.4" height="17.1" fill="#045002"/>
<rect x="1775" y="574.5" width="11.8" height="15.4" fill="#480004"/>
<rect x="1775" y="591.5" width="11.8" height="1.5" fill="#80000A"/>
</g>
<g>
<rect x="1719.3" y="617" width="56.7" height="20.6" fill="#24AB02"/>
<rect x="1778.4" y="617" width="8.4" height="17.6" fill="#80000A"/>
<rect x="1778.4" y="636" width="3.6" height="1.6" fill="#24AB02"/>
</g>
<g>
<rect x="1719.3" y="662" width="14.7" height="20.3" fill="#1B8002"/>
<rect x="1736" y="662" width="10" height="20.3" fill="#24AB02"/>
<rect x="1748" y="662" width="20" height="8.7" fill="#480004"/>
<rect x="1748" y="673" width="20" height="9.3" fill="#24AB02"/>
<rect x="1770" y="662" width="8" height="12.7" fill="#24AB02"/>
<rect x="1780" y="662" width="6.8" height="12.7" fill="#80000A"/>
<rect x="1770" y="676.5" width="8" height="5.8" fill="#480004"/>
<rect x="1780" y="676.5" width="3" height="5.8" fill="#80000A"/>
<rect x="1784.5" y="676.5" width="2.3" height="3.5" fill="#B0020C"/>
</g>
<g>
<rect x="1790.3" y="552.4" width="15.7" height="33.6" fill="#045002"/>
<rect x="1808.2" y="552.4" width="17.6" height="17.9" fill="#80000A"/>
<rect x="1827.7" y="552.4" width="9.3" height="17.9" fill="#045002"/>
<rect x="1808.2" y="572.1" width="7.6" height="13.9" fill="#1B8002"/>
<rect x="1817.9" y="572.1" width="7.9" height="13.9" fill="#045002"/>
<rect x="1827.7" y="572.1" width="9.3" height="10.5" fill="#80000A"/>
<rect x="1827.7" y="584.3" width="1.8" height="1.7" fill="#24AB02"/>
<rect x="1830.7" y="584.3" width="1.8" height="1.7" fill="#24AB02"/>
<rect x="1833.7" y="584.3" width="3.3" height="1.7" fill="#1B8002"/>
</g>
<g>
<rect x="1840.2" y="552.4" width="25.5" height="16.2" fill="#480004"/>
<rect x="1867.6" y="552.4" width="15.6" height="10.4" fill="#045002"/>
<rect x="1867.6" y="565.2" width="15.6" height="6.5" fill="#24AB02"/>
<rect x="1840.2" y="570.7" width="25.5" height="15.3" fill="#24AB02"/>
<rect x="1867.6" y="573.8" width="6.5" height="12.2" fill="#1B8002"/>
<rect x="1876.2" y="573.8" width="7" height="12.2" fill="#1B8002"/>
</g>
<g>
<rect x="1790.3" y="610" width="46.7" height="24.4" fill="#045002"/>
</g>
<g>
<rect x="1840.2" y="610" width="8.3" height="9.1" fill="#1B8002"/>
<rect x="1850.2" y="610" width="7.8" height="9.1" fill="#045002"/>
<rect x="1859.5" y="610" width="6.1" height="9.1" fill="#045002"/>
<rect x="1867.2" y="610" width="7.7" height="3.5" fill="#1B8002"/>
<rect x="1867.2" y="615.5" width="7.7" height="3.6" fill="#045002"/>
<rect x="1876.5" y="610" width="6.5" height="3" fill="#24AB02"/>
<rect x="1876.5" y="614.5" width="2.5" height="4.6" fill="#24AB02"/>
<rect x="1880.5" y="614.5" width="2.5" height="2" fill="#80000A"/>
<rect x="1880.5" y="618" width="2.5" height="1.1" fill="#B0020C"/>
</g>
<g>
<rect x="1790.3" y="658.5" width="17.6" height="23.8" fill="#24AB02"/>
<rect x="1810" y="658.5" width="17" height="11.2" fill="#24AB02"/>
<rect x="1810" y="672" width="17" height="10.3" fill="#045002"/>
<rect x="1828.8" y="658.5" width="8.6" height="4.7" fill="#B0020C"/>
<rect x="1828.8" y="665.5" width="8.6" height="3.5" fill="#045002"/>
<rect x="1828.8" y="671.3" width="2.8" height="6.5" fill="#80000A"/>
<rect x="1833.5" y="671.3" width="3.9" height="6.5" fill="#045002"/>
<rect x="1828.8" y="679.5" width="3.2" height="2.8" fill="#B0020C"/>
<rect x="1833.5" y="679.5" width="3.9" height="2.8" fill="#24AB02"/>
</g>
<g>
<rect x="1840.2" y="643" width="10.7" height="15" fill="#480004"/>
<rect x="1853" y="643" width="8.1" height="8.1" fill="#24AB02"/>
<rect x="1853" y="653.4" width="8.1" height="4.6" fill="#480004"/>
</g>
<g>
<rect x="1865" y="643" width="11.2" height="15" fill="#480004"/>
<rect x="1878" y="643" width="4.7" height="15" fill="#045002"/>
</g>
<rect x="18" y="9.2" width="1.3" height="675.4" fill="#c6c6c6"/>
<rect x="18" y="9.2" width="1867" height="1.7" fill="#e0e0e0"/>
<rect x="18" y="682.4" width="1867.3" height="2.4" fill="#e3e3e3"/>
<g class="h">
<text x="264.8" y="24.3">خودرو و ساخت قطعات [+]</text>
<text x="703.5" y="24.3">بانکها و موسسات اعتباري [+]</text>
<text x="1044.7" y="24.3">فلزات اساسي [+]</text>
<text x="1304.45" y="24.3">سرمايه گذاريها [+]</text>
<text x="1538.4" y="24.3">شرکتهاي چند رشته اي صنعتي [+]</text>
<text x="1773.85" y="24.3">زراعت و خدمات وابسته [+]</text>
<text x="264.9" y="364.7">فراورده هاي نفتي، كك و سوخت هسته اي [+]</text>
<text x="703.5" y="386.2">محصولات شيميايي [+]</text>
<text x="1044.65" y="397.5">انبوه سازي، املاك و مستغلات [+]</text>
<text x="1304.45" y="258.1">مواد و محصولات دارويي [+]</text>
<text x="1304.45" y="487.6">استخراج کانه هاي فلزي [+]</text>
<text x="1501.3" y="184.6">رايانه و فعاليت‌هاي وابسته به آن [+]</text>
<text x="1665.65" y="184.6">...حمل ونقل، انبارداري و ارتبا [+]</text>
<text x="1812.1" y="184.6">... بيمه وصندوق بازنشستگي [+]</text>
<text x="1472.3" y="345.7">...محصولات غذايي و آ [+]</text>
<text x="1597.3" y="345.7">سيمان، آهك و گچ [+]</text>
<text x="1721.4" y="345.7">... فعاليتهاي کمکي به [+]</text>
<text x="1831.8" y="345.7">... ساير محصولات [+]</text>
<text x="1472.15" y="532.9">استخراج زغال سنگ [+]</text>
<text x="1580.3" y="484.2">... استخراج نفت [+]</text>
<text x="1580.45" y="612.1">...توليد محصولا [+]</text>
<text x="1672.4" y="484.2">هتل و رستوران [+]</text>
<text x="1672.4" y="562.6">... خدمات فني [+]</text>
<text x="1672.4" y="632.1">...اطلاعات و ا [+]</text>
<text x="1758.4" y="484.2">...ماشين آلات [+]</text>
<text x="1841.9" y="484.2">...ساخت مح [+]</text>
<text x="1751.55" y="546.1">... لاستيك [+]</text>
<text x="1751.55" y="610.6">...محصولا [+]</text>
<text x="1751.55" y="655.6">قند و شکر [+]</text>
<text x="1812.15" y="546">...عر [+]</text>
<text x="1860.2" y="546">...کا [+]</text>
<text x="1812.15" y="603.6">...اس [+]</text>
<text x="1860.2" y="603.6">...سا [+]</text>
<text x="1812.35" y="652.1">...ما [+]</text>
<text x="1848.65" y="636.5" style="direction:ltr;unicode-bidi:normal">[...</text>
<text x="1872.1" y="636.5" style="direction:ltr;unicode-bidi:normal">[...</text>
</g>
<g class="c">
<text x="134.65" y="184.15" font-size="25" stroke-width="0.5">خبرنا</text>
<text class="n" x="134.65" y="215.65" font-size="25" stroke-width="0.5">-2.96%</text>
<text x="332.4" y="94.76" font-size="19.5" stroke-width="0.39">خگستر</text>
<text class="n" x="332.4" y="119.66" font-size="19.5" stroke-width="0.39">-3%</text>
<text x="453.8" y="96.1" font-size="13.4" stroke-width="0.27">خودرو</text>
<text class="n" x="453.8" y="113.68" font-size="13.4" stroke-width="0.27">-2.13%</text>
<text x="310.55" y="218.64" font-size="10.26" stroke-width="0.21">خزاميا</text>
<text class="n" x="310.55" y="232.45" font-size="10.26" stroke-width="0.21">-2.99%</text>
<text x="310.55" y="309.94" font-size="7.56" stroke-width="0.15">خاهن</text>
<text class="n" x="310.55" y="320.51" font-size="7.56" stroke-width="0.15">1.44%</text>
<text x="407.35" y="195.37" font-size="4.7" stroke-width="0.09">خساپا</text>
<text class="n" x="407.35" y="202.51" font-size="4.7" stroke-width="0.09">-2.33%</text>
<text x="487.9" y="199.79" font-size="10.8" stroke-width=".12">خوساز</text>
<text x="396.35" y="251.59" font-size="10.8" stroke-width=".12">فنر</text>
<text x="446.3" y="246.99" font-size="10.8" stroke-width=".12">خاور</text>
<text x="491.25" y="246.99" font-size="10.8" stroke-width=".12">خکار</text>
<text x="396.35" y="294.69" font-size="10.8" stroke-width=".12">ختوقا</text>
<text x="396.35" y="333.69" font-size="10.8" stroke-width=".12">خرينگ</text>
<text x="439.5" y="282.99" font-size="10.8" stroke-width=".12">خ...</text>
<text x="439.5" y="313.69" font-size="10.8" stroke-width=".12">خ...</text>
<text x="439.5" y="339.69" font-size="10.8" stroke-width=".12">خم...</text>
<text x="598.65" y="194.7" font-size="25" stroke-width="0.5">وبملت</text>
<text class="n" x="598.65" y="226.2" font-size="25" stroke-width="0.5">-1.59%</text>
<text x="742.85" y="110.02" font-size="16.74" stroke-width="0.33">وبصادر</text>
<text class="n" x="742.85" y="131.61" font-size="16.74" stroke-width="0.33">-2.97%</text>
<text x="839.2" y="110.49" font-size="14.58" stroke-width="0.29">وبست</text>
<text class="n" x="839.2" y="129.49" font-size="14.58" stroke-width="0.29">2.98%</text>
<text x="752.15" y="251.66" font-size="14.04" stroke-width="0.28">وتجارت</text>
<text class="n" x="752.15" y="270.01" font-size="14.04" stroke-width="0.28">-3%</text>
<text x="848.5" y="234.79" font-size="5.04" stroke-width="0.1">سامان</text>
<text class="n" x="848.5" y="242.34" font-size="5.04" stroke-width="0.1">2.84%</text>
<text x="857.5" y="296.74" font-size="10.8" stroke-width=".12">ونوين</text>
<text x="752.15" y="339.84" font-size="6.16" stroke-width="0.12">وپارس</text>
<text class="n" x="752.15" y="348.74" font-size="6.16" stroke-width="0.12">-2.81%</text>
<text x="838" y="344.59" font-size="10.8" stroke-width=".12">و...</text>
<text x="873.5" y="335.49" font-size="10.8" stroke-width=".12">وپا...</text>
<text x="1036.15" y="103.6" font-size="25" stroke-width="0.5">فولاد</text>
<text class="n" x="1036.15" y="135.1" font-size="25" stroke-width="0.5">-0.33%</text>
<text x="951.4" y="246.74" font-size="16.2" stroke-width="0.32">فملي</text>
<text class="n" x="951.4" y="267.68" font-size="16.2" stroke-width="0.32">0.49%</text>
<text x="951.4" y="344.95" font-size="8.64" stroke-width="0.17">ذوب</text>
<text class="n" x="951.4" y="356.82" font-size="8.64" stroke-width="0.17">-0.53%</text>
<text x="1060.45" y="220.22" font-size="5.38" stroke-width="0.11">فباهنر</text>
<text class="n" x="1060.45" y="228.17" font-size="5.38" stroke-width="0.11">2.91%</text>
<text x="1145.25" y="220.22" font-size="5.38" stroke-width="0.11">هرمز</text>
<text class="n" x="1145.25" y="228.17" font-size="5.38" stroke-width="0.11">3%</text>
<text x="1043.9" y="293.22" font-size="4.7" stroke-width="0.09">فلوله</text>
<text class="n" x="1043.9" y="300.36" font-size="4.7" stroke-width="0.09">2.99%</text>
<text x="1052.9" y="360.74" font-size="10.8" stroke-width=".12">فخاس</text>
<text x="1100.75" y="278.79" font-size="10.8" stroke-width=".12">کاوه</text>
<text x="1140.6" y="278.79" font-size="10.8" stroke-width=".12">فس...</text>
<text x="1177.55" y="278.79" font-size="10.8" stroke-width=".12">ف...</text>
<text x="1095.85" y="321.64" font-size="10.8" stroke-width=".12">ف...</text>
<text x="1095.85" y="364.24" font-size="10.8" stroke-width=".12">فخ...</text>
<text x="1129.5" y="313.39" font-size="10.8" stroke-width=".12">فماك</text>
<text x="1239.35" y="100.14" font-size="14.58" stroke-width="0.29">وساپا</text>
<text class="n" x="1239.35" y="119.14" font-size="14.58" stroke-width="0.29">-1.71%</text>
<text x="1239.35" y="208.17" font-size="5.6" stroke-width="0.11">وگستر</text>
<text class="n" x="1239.35" y="216.39" font-size="5.6" stroke-width="0.11">-2.66%</text>
<text x="1346.85" y="57.62" font-size="5.6" stroke-width="0.11">ومهان</text>
<text class="n" x="1346.85" y="65.84" font-size="5.6" stroke-width="0.11">1.17%</text>
<text x="1331.65" y="113.39" font-size="10.8" stroke-width=".12">وسکاب</text>
<text x="1388.25" y="113.39" font-size="10.8" stroke-width=".12">وخارزم</text>
<text x="1320" y="155.39" font-size="10.8" stroke-width=".12">وها...</text>
<text x="1320" y="193.89" font-size="10.8" stroke-width=".12">وسپهر</text>
<text x="1320" y="229.64" font-size="10.8" stroke-width=".12">وسپه</text>
<text x="1362.65" y="149.89" font-size="10.8" stroke-width=".12">سرچ...</text>
<text x="1398.5" y="149.89" font-size="10.8" stroke-width=".12">و...</text>
<text x="1352.05" y="207.54" font-size="10.8" stroke-width=".12">ا...</text>
<text x="1464.05" y="95.52" font-size="16.74" stroke-width="0.33">وصندوق</text>
<text class="n" x="1464.05" y="117.11" font-size="16.74" stroke-width="0.33">2.97%</text>
<text x="1589" y="63.99" font-size="10.26" stroke-width="0.21">شستا</text>
<text class="n" x="1589" y="77.8" font-size="10.26" stroke-width="0.21">-1.8%</text>
<text x="1557.5" y="134.16" font-size="4.48" stroke-width="0.09">وبانك</text>
<text class="n" x="1557.5" y="141.04" font-size="4.48" stroke-width="0.09">0.58%</text>
<text x="1632.4" y="133.19" font-size="10.8" stroke-width=".12">وغدير</text>
<text x="1714.6" y="64.34" font-size="7.56" stroke-width="0.15">زماهان</text>
<text class="n" x="1714.6" y="74.91" font-size="7.56" stroke-width="0.15">-2.85%</text>
<text x="1714.6" y="133.19" font-size="7.56" stroke-width="0.15">زکشت</text>
<text class="n" x="1714.6" y="143.76" font-size="7.56" stroke-width="0.15">-1.56%</text>
<text x="1822.95" y="66.07" font-size="8.1" stroke-width="0.16">زفجر</text>
<text class="n" x="1822.95" y="77.29" font-size="8.1" stroke-width="0.16">2.08%</text>
<text x="1798.25" y="140.24" font-size="10.8" stroke-width=".12">ز...</text>
<text x="1833.75" y="125.39" font-size="10.8" stroke-width=".12">زقيام</text>
<text x="1833.75" y="156.64" font-size="10.8" stroke-width=".12">سي...</text>
<text x="167.6" y="521.57" font-size="25.6" stroke-width="0.51">شبندر</text>
<text class="n" x="167.6" y="553.79" font-size="25.6" stroke-width="0.51">1.73%</text>
<text x="415.9" y="428.44" font-size="20.52" stroke-width="0.41">شتران</text>
<text class="n" x="415.9" y="454.56" font-size="20.52" stroke-width="0.41">-0.37%</text>
<text x="372.6" y="553.53" font-size="9.18" stroke-width="0.18">شپنا</text>
<text class="n" x="372.6" y="566.05" font-size="9.18" stroke-width="0.18">-2.46%</text>
<text x="461.25" y="553.53" font-size="9.18" stroke-width="0.18">شبريز</text>
<text class="n" x="461.25" y="566.05" font-size="9.18" stroke-width="0.18">-0.71%</text>
<text x="357.45" y="648.79" font-size="3.92" stroke-width="0.08">شسپا</text>
<text class="n" x="357.45" y="654.99" font-size="3.92" stroke-width="0.08">1.77%</text>
<text x="415.7" y="653.04" font-size="10.8" stroke-width=".12">شاوان</text>
<text x="453.1" y="653.04" font-size="10.8" stroke-width=".12">شن...</text>
<text x="492.05" y="637.79" font-size="10.8" stroke-width=".12">شپاس</text>
<text x="580.6" y="479.35" font-size="25.92" stroke-width="0.52">فارس</text>
<text class="n" x="580.6" y="511.95" font-size="25.92" stroke-width="0.52">2.99%</text>
<text x="580.6" y="627.72" font-size="15.12" stroke-width="0.3">شاراك</text>
<text class="n" x="580.6" y="647.37" font-size="15.12" stroke-width="0.3">2.38%</text>
<text x="715.3" y="434.58" font-size="9.18" stroke-width="0.18">پارسان</text>
<text class="n" x="715.3" y="447.1" font-size="9.18" stroke-width="0.18">-0.11%</text>
<text x="829.7" y="434.58" font-size="9.18" stroke-width="0.18">تاپيکو</text>
<text class="n" x="829.7" y="447.1" font-size="9.18" stroke-width="0.18">-1.03%</text>
<text x="702.65" y="515.32" font-size="5.6" stroke-width="0.11">شخارك</text>
<text class="n" x="702.65" y="523.54" font-size="5.6" stroke-width="0.11">0.94%</text>
<text x="786.65" y="513.41" font-size="4.48" stroke-width="0.09">شيله</text>
<text class="n" x="786.65" y="520.29" font-size="4.48" stroke-width="0.09">1.33%</text>
<text x="862.55" y="517.79" font-size="10.8" stroke-width=".12">کلر</text>
<text x="702.65" y="584.77" font-size="5.6" stroke-width="0.11">شسينا</text>
<text class="n" x="702.65" y="592.99" font-size="5.6" stroke-width="0.11">2.6%</text>
<text x="702.65" y="651.19" font-size="5.04" stroke-width="0.1">شبصير</text>
<text class="n" x="702.65" y="658.74" font-size="5.04" stroke-width="0.1">2.91%</text>
<text x="788.75" y="574.14" font-size="10.8" stroke-width=".12">شگستر</text>
<text x="837.4" y="574.14" font-size="10.8" stroke-width=".12">کرما...</text>
<text x="874.95" y="574.14" font-size="10.8" stroke-width=".12">شار...</text>
<text x="774.65" y="621.84" font-size="10.8" stroke-width=".12">قرن</text>
<text x="810.45" y="612.99" font-size="10.8" stroke-width=".12">خرا...</text>
<text x="810.45" y="643.14" font-size="10.8" stroke-width=".12">کيم...</text>
<text x="810.45" y="672.64" font-size="10.8" stroke-width=".12">شو...</text>
<text x="846.35" y="612.99" font-size="10.8" stroke-width=".12">ش...</text>
<text x="956.3" y="537.9" font-size="25.92" stroke-width="0.52">ثفارس</text>
<text class="n" x="956.3" y="570.5" font-size="25.92" stroke-width="0.52">0.86%</text>
<text x="1106.8" y="472.21" font-size="22.68" stroke-width="0.45">ثشاهد</text>
<text class="n" x="1106.8" y="500.93" font-size="22.68" stroke-width="0.45">1.79%</text>
<text x="1067.3" y="597.06" font-size="7.02" stroke-width="0.14">ثامان</text>
<text class="n" x="1067.3" y="606.98" font-size="7.02" stroke-width="0.14">2.99%</text>
<text x="1076.3" y="668.59" font-size="10.8" stroke-width=".12">ثغرب</text>
<text x="1137.5" y="571.74" font-size="10.8" stroke-width=".12">ثنوسا</text>
<text x="1177" y="571.74" font-size="10.8" stroke-width=".12">ثم...</text>
<text x="1137.5" y="602.64" font-size="10.8" stroke-width=".12">ثرود</text>
<text x="1177" y="602.64" font-size="10.8" stroke-width=".12">ثبه...</text>
<text x="1133.6" y="628.59" font-size="10.8" stroke-width=".12">وتو...</text>
<text x="1133.6" y="652.84" font-size="10.8" stroke-width=".12">آ...</text>
<text x="1230.35" y="325.99" font-size="10.26" stroke-width="0.21">برکت</text>
<text class="n" x="1230.35" y="339.8" font-size="10.26" stroke-width="0.21">2.99%</text>
<text x="1230.35" y="430.69" font-size="6.16" stroke-width="0.12">داوه</text>
<text class="n" x="1230.35" y="439.59" font-size="6.16" stroke-width="0.12">0.54%</text>
<text x="1312.1" y="289.11" font-size="4.48" stroke-width="0.09">جالبس</text>
<text class="n" x="1312.1" y="295.99" font-size="4.48" stroke-width="0.09">2.9%</text>
<text x="1386.6" y="293.49" font-size="10.8" stroke-width=".12">پخش</text>
<text x="1304.7" y="347.39" font-size="10.8" stroke-width=".12">دامين</text>
<text x="1349.95" y="347.39" font-size="10.8" stroke-width=".12">دکوثر</text>
<text x="1391.9" y="347.39" font-size="10.8" stroke-width=".12">تيپيکو</text>
<text x="1303" y="394.14" font-size="10.8" stroke-width=".12">ديران</text>
<text x="1303" y="429.89" font-size="10.8" stroke-width=".12">دبالك</text>
<text x="1303" y="460.94" font-size="10.8" stroke-width=".12">والبر</text>
<text x="1340.95" y="391.14" font-size="10.8" stroke-width=".12">د...</text>
<text x="1371.5" y="391.14" font-size="10.8" stroke-width=".12">د...</text>
<text x="1399.1" y="391.14" font-size="10.8" stroke-width=".12">د...</text>
<text x="1253.1" y="553.95" font-size="17.28" stroke-width="0.35">کاما</text>
<text class="n" x="1253.1" y="576.18" font-size="17.28" stroke-width="0.35">1.13%</text>
<text x="1253.1" y="651.56" font-size="7.02" stroke-width="0.14">کروميت</text>
<text class="n" x="1253.1" y="661.48" font-size="7.02" stroke-width="0.14">-2.1%</text>
<text x="1360.55" y="536.86" font-size="7.02" stroke-width="0.14">کگل</text>
<text class="n" x="1360.55" y="546.78" font-size="7.02" stroke-width="0.14">1.27%</text>
<text x="1349.75" y="620.59" font-size="10.8" stroke-width=".12">فزر</text>
<text x="1392.55" y="620.59" font-size="10.8" stroke-width=".12">ومع...</text>
<text x="1346.55" y="670.84" font-size="10.8" stroke-width=".12">کچاد</text>
<text x="1468.4" y="256.1" font-size="17.28" stroke-width="0.35">تپسي</text>
<text class="n" x="1468.4" y="278.33" font-size="17.28" stroke-width="0.35">2.99%</text>
<text x="1565.4" y="209.39" font-size="10.8" stroke-width=".12">آپ</text>
<text x="1565.4" y="237.59" font-size="10.8" stroke-width=".12">پرداخت</text>
<text x="1554.35" y="302.29" font-size="10.8" stroke-width=".12">تا...</text>
<text x="1621.75" y="225.14" font-size="5.04" stroke-width="0.1">حتاير</text>
<text class="n" x="1621.75" y="232.69" font-size="5.04" stroke-width="0.1">2.63%</text>
<text x="1621.75" y="294.44" font-size="5.04" stroke-width="0.1">حتايد</text>
<text class="n" x="1621.75" y="301.99" font-size="5.04" stroke-width="0.1">2.91%</text>
<text x="1705.4" y="218.29" font-size="10.8" stroke-width=".12">حسينا</text>
<text x="1705.4" y="263.64" font-size="10.8" stroke-width=".12">حکشتي</text>
<text x="1690.15" y="298.39" font-size="10.8" stroke-width=".12">حآفر...</text>
<text x="1775.6" y="237.74" font-size="7.56" stroke-width="0.15">ميهن</text>
<text class="n" x="1775.6" y="248.31" font-size="7.56" stroke-width="0.15">0.94%</text>
<text x="1784.6" y="312.19" font-size="10.8" stroke-width=".12">پارسيان</text>
<text x="1854.75" y="218.29" font-size="10.8" stroke-width=".12">البرز</text>
<text x="1841.25" y="263.64" font-size="10.8" stroke-width=".12">دانا</text>
<text x="1869.25" y="263.64" font-size="10.8" stroke-width=".12">و...</text>
<text x="1842.7" y="298.04" font-size="10.8" stroke-width=".12">بخا...</text>
<text x="1463.8" y="382.79" font-size="7.56" stroke-width="0.15">غفارس</text>
<text class="n" x="1463.8" y="393.36" font-size="7.56" stroke-width="0.15">-1.63%</text>
<text x="1433.25" y="455.24" font-size="10.8" stroke-width=".12">وب...</text>
<text x="1433.25" y="504.99" font-size="10.8" stroke-width=".12">غگلپا</text>
<text x="1466.25" y="438.89" font-size="10.8" stroke-width=".12">غ...</text>
<text x="1493.15" y="438.89" font-size="10.8" stroke-width=".12">آر...</text>
<text x="1519.05" y="438.89" font-size="10.8" stroke-width=".12">غ...</text>
<text x="1466.25" y="469.49" font-size="10.8" stroke-width=".12">غ...</text>
<text x="1553.1" y="390.34" font-size="10.8" stroke-width=".12">ستران</text>
<text x="1553.1" y="448.79" font-size="10.8" stroke-width=".12">ساروم</text>
<text x="1588.95" y="373.14" font-size="10.8" stroke-width=".12">سا...</text>
<text x="1695.25" y="387.17" font-size="5.6" stroke-width="0.11">فرابورس</text>
<text class="n" x="1695.25" y="395.39" font-size="5.6" stroke-width="0.11">-2.95%</text>
<text x="1762.35" y="391.79" font-size="10.8" stroke-width=".12">کالا</text>
<text x="1693.8" y="450.24" font-size="10.8" stroke-width=".12">انرژي</text>
<text x="1738.95" y="450.24" font-size="10.8" stroke-width=".12">بو...</text>
<text x="1809.3" y="379.86" font-size="4.48" stroke-width="0.09">کاپ</text>
<text class="n" x="1809.3" y="386.74" font-size="4.48" stroke-width="0.09">1.99%</text>
<text x="1868.8" y="384.24" font-size="10.8" stroke-width=".12">ك...</text>
<text x="1798.05" y="429.59" font-size="10.8" stroke-width=".12">ك...</text>
<text x="1798.05" y="458.59" font-size="10.8" stroke-width=".12">کخ...</text>
<text x="1463.65" y="604.42" font-size="16.74" stroke-width="0.33">کربن</text>
<text class="n" x="1463.65" y="626.01" font-size="16.74" stroke-width="0.33">-3%</text>
<text x="1571.8" y="540.67" font-size="10.8" stroke-width="0.22">حفاري</text>
<text class="n" x="1571.8" y="555.13" font-size="10.8" stroke-width="0.22">2.12%</text>
<text x="1570.65" y="649.47" font-size="6.48" stroke-width="0.13">ماديرا</text>
<text class="n" x="1570.65" y="658.75" font-size="6.48" stroke-width="0.13">2.95%</text>
<text x="1656.25" y="516.89" font-size="5.04" stroke-width="0.1">سمگا</text>
<text class="n" x="1656.25" y="524.44" font-size="5.04" stroke-width="0.1">1.2%</text>
<text x="1663.9" y="590.99" font-size="5.04" stroke-width="0.1">رمپنا</text>
<text class="n" x="1663.9" y="598.54" font-size="5.04" stroke-width="0.1">0.68%</text>
<text x="1650.75" y="664.29" font-size="10.8" stroke-width=".12">اسيا...</text>
<text x="1693.6" y="653.24" font-size="10.8" stroke-width=".12">آواك</text>
<text x="1734.65" y="513.59" font-size="10.8" stroke-width=".12">بترا...</text>
<text x="1822" y="513.59" font-size="10.8" stroke-width=".12">فاذر</text>
<text x="1857.8" y="513.59" font-size="10.8" stroke-width=".12">فا...</text>
<text x="1746.65" y="631.19" font-size="10.8" stroke-width=".12">چکاوه</text>
<text x="1812.65" y="626.09" font-size="10.8" stroke-width=".12">کماسه</text>
</g>
<g id="wm">
<path d="M0 451.2 H264.8 A70.75 70.75 0 0 1 264.8 592.7 H0 Z" fill="rgb(125,125,125)" fill-opacity="0.65"/>
<path d="M249.4 576.6 A59.3 59.3 0 0 1 206.5 508.0 M210.1 496.1 A59.3 59.3 0 0 1 259.5 460.2 M268.8 460.1 A59.3 59.3 0 0 1 292.5 466.9 M301.2 472.6 A59.3 59.3 0 0 1 280.0 576.6 M248.4 561.7 A45.4 45.4 0 0 1 220.0 511.4 M223.2 500.8 A45.4 45.4 0 0 1 259.2 474.2 M269.8 474.2 A45.4 45.4 0 0 1 284.6 478.5 M293.9 484.5 A45.4 45.4 0 0 1 281.0 561.7 M250.0 547.0 A31.4 31.4 0 0 1 233.5 516.0 M236.8 504.8 A31.4 31.4 0 0 1 259.5 488.3 M269.6 488.3 A31.4 31.4 0 0 1 277.5 490.6 M286.3 496.5 A31.4 31.4 0 0 1 279.0 547.3" fill="none" stroke="#fff" stroke-width="7.7" stroke-linecap="round"/>
<circle cx="264.7" cy="519.3" r="14.7" fill="#fff"/>
<path d="M257 587.1 V546.4 a7 7 0 0 1 14 0 V587.1 Z" fill="#fff"/>
<rect x="20.6" y="535" width="176.4" height="1.6" fill="#fff"/>
<text x="195" y="489.5" font-size="43" font-weight="bold" fill="#fff" stroke="#fff" stroke-width="1.6" stroke-linejoin="round" style="font-family:'DejaVu Sans',sans-serif;direction:rtl;text-anchor:start" textLength="172" lengthAdjust="spacingAndGlyphs">ايـبِـنـا</text>
<text x="193.5" y="519.5" font-size="17.5" font-weight="bold" fill="#fff" stroke="#fff" stroke-width=".3" style="font-family:'DejaVu Sans',sans-serif;direction:rtl;text-anchor:start" textLength="169" lengthAdjust="spacingAndGlyphs">رسانه مرجع بانک مرکزی</text>
<text transform="translate(20.8,582.9) scale(0.79,1)" font-size="43" font-weight="bold" fill="#fff" style="font-family:'Liberation Sans',sans-serif;direction:ltr;text-anchor:start" textLength="223" lengthAdjust="spacing">IBENA.IR</text>
</g>
</svg></body></html>
